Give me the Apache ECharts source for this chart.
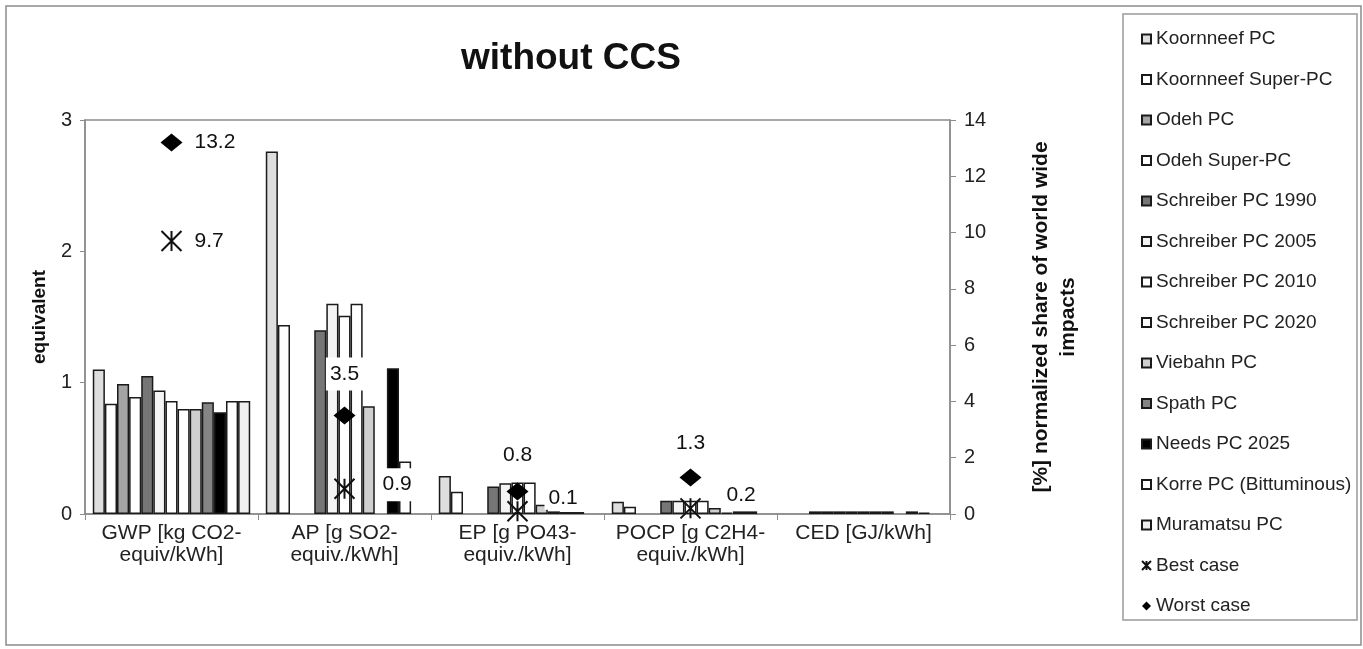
<!DOCTYPE html>
<html>
<head>
<meta charset="utf-8">
<script src="https://cdn.jsdelivr.net/npm/echarts@6/dist/echarts.min.js"></script>
<style>
html,body{margin:0;padding:0;background:#fff;}
#chart{width:1363px;height:649px;}
</style>
</head>
<body>
<div id="chart"></div>
<script>
// ---------- data ----------
const categories = ['GWP [kg CO2-\nequiv/kWh]', 'AP [g SO2-\nequiv./kWh]', 'EP [g PO43-\nequiv./kWh]', 'POCP [g C2H4-\nequiv./kWh]', 'CED [GJ/kWh]'];
const seriesNames = ['Koornneef PC', 'Koornneef Super-PC', 'Odeh PC', 'Odeh Super-PC', 'Schreiber PC 1990', 'Schreiber PC 2005', 'Schreiber PC 2010', 'Schreiber PC 2020', 'Viebahn PC', 'Spath PC', 'Needs PC 2025', 'Korre PC (Bittuminous)', 'Muramatsu PC'];
const koornneefPC      = [1.10, 2.76, 0.29, 0.094, null];
const koornneefSuperPC = [0.84, 1.44, 0.17, 0.056, null];
const odehPC           = [0.99, null, null, null, 0.02];
const odehSuperPC      = [0.89, null, null, null, 0.02];
const schreiber1990    = [1.05, 1.40, 0.21, 0.10, 0.02];
const schreiber2005    = [0.94, 1.60, 0.235, 0.10, 0.02];
const schreiber2010    = [0.86, 1.51, 0.24, 0.10, 0.02];
const schreiber2020    = [0.80, 1.60, 0.24, 0.10, 0.02];
const viebahnPC        = [0.80, 0.82, 0.07, 0.045, 0.02];
const spathPC          = [0.85, null, 0.02, 0.01, null];
const needsPC2025      = [0.775, 1.11, 0.015, 0.02, 0.02];
const korrePC          = [0.86, 0.40, 0.015, 0.02, 0.01];
const muramatsuPC      = [0.86, null, null, null, null];
const bestCase  = [9.7, 0.9, 0.1, 0.2, null];
const worstCase = [13.2, 3.5, 0.8, 1.3, null];
const leftTicks = [0, 1, 2, 3];
const rightTicks = [0, 2, 4, 6, 8, 10, 12, 14];

// ---------- styles ----------
const barValues = [koornneefPC, koornneefSuperPC, odehPC, odehSuperPC, schreiber1990, schreiber2005, schreiber2010, schreiber2020, viebahnPC, spathPC, needsPC2025, korrePC, muramatsuPC];
const barColors = ['#dedede', '#ffffff', '#a4a4a4', '#ffffff', '#767676', '#f4f4f4', '#ffffff', '#ffffff', '#cfcfcf', '#858585', '#000000', '#ffffff', '#efefef'];
const FONT = '"Liberation Sans", Arial, sans-serif';

const worstLabelLayout = [
  {position: 'right', distance: 8},
  {position: 'top', distance: 16},
  {position: 'top', distance: 11},
  {position: 'top', distance: 9},
  {position: 'top', distance: 9}
];
const bestLabelLayout = [
  {position: 'right', distance: 8},
  {position: 'right', distance: 23, offset: [0, -4]},
  {position: 'right', distance: 16, offset: [0, -13], padding: [1, 4]},
  {position: 'right', distance: 21, offset: [0, -13], padding: [1, 4]},
  {position: 'right', distance: 16}
];

const labelBase = {show: true, color: '#111', fontSize: 21, fontFamily: FONT, backgroundColor: '#fff', padding: [6, 4]};

const series = barValues.map((vals, i) => ({
  name: seriesNames[i],
  type: 'bar',
  yAxisIndex: 0,
  barGap: 0,
  barCategoryGap: '9%',
  data: vals,
  itemStyle: {color: barColors[i], borderColor: '#1a1a1a', borderWidth: 1.5},
  emphasis: {disabled: true},
  z: 2
}));

series.push({
  name: 'Best case',
  type: 'scatter',
  yAxisIndex: 1,
  symbol: 'path://M0,0L20,20M20,0L0,20M10,0L10,20',
  symbolSize: [20, 20],
  itemStyle: {color: 'rgba(0,0,0,0)', borderColor: '#111', borderWidth: 2, opacity: 1},
  emphasis: {disabled: true},
  data: bestCase.map((v, i) => ({value: v, label: Object.assign({}, labelBase, bestLabelLayout[i])})),
  z: 5
});
series.push({
  name: 'Worst case',
  type: 'scatter',
  yAxisIndex: 1,
  symbol: 'diamond',
  symbolSize: [22, 18],
  itemStyle: {color: '#000', opacity: 1},
  emphasis: {disabled: true},
  data: worstCase.map((v, i) => ({value: v, label: Object.assign({}, labelBase, worstLabelLayout[i])})),
  z: 6
});

const legendData = seriesNames.map(n => ({name: n, icon: 'rect'}))
  .concat([{name: 'Best case'}, {name: 'Worst case', icon: 'diamond'}]);

const chart = echarts.init(document.getElementById('chart'), null, {renderer: 'canvas'});
chart.setOption({
  animation: false,
  backgroundColor: '#fff',
  textStyle: {fontFamily: FONT},
  graphic: [
    {type: 'rect', shape: {x: 6, y: 6, width: 1355, height: 639}, style: {fill: 'none', stroke: '#8c8c8c', lineWidth: 1.5}, silent: true, z: -10},
    {type: 'rect', shape: {x: 1123, y: 14, width: 234, height: 606}, style: {fill: '#fff', stroke: '#9a9a9a', lineWidth: 1.5}, silent: true, z: -5},
    {type: 'text', left: 461, top: 40, style: {text: 'without CCS', font: 'bold 37px ' + FONT, fill: '#111'}, silent: true}
  ],
  grid: {left: 85, right: 413, top: 120, bottom: 135, show: true, borderColor: '#8c8c8c', borderWidth: 1.5, containLabel: false},
  legend: {
    orient: 'vertical',
    left: 1136,
    top: 24,
    itemWidth: 9,
    itemHeight: 9,
    itemGap: 20.5,
    selectedMode: false,
    textStyle: {fontSize: 19, color: '#222', fontFamily: FONT, lineHeight: 20},
    data: legendData
  },
  xAxis: {
    type: 'category',
    data: categories,
    axisLine: {lineStyle: {color: '#8c8c8c', width: 1.5}},
    axisTick: {show: true, length: 6, lineStyle: {color: '#8c8c8c'}},
    axisLabel: {interval: 0, fontSize: 21, lineHeight: 22, color: '#222', margin: 8, fontFamily: FONT},
    splitLine: {show: false}
  },
  yAxis: [
    {
      type: 'value', min: leftTicks[0], max: leftTicks[leftTicks.length - 1], interval: 1,
      name: 'equivalent', nameLocation: 'middle', nameGap: 36, nameRotate: 90,
      nameTextStyle: {fontSize: 19, fontWeight: 'bold', color: '#111', fontFamily: FONT},
      axisLine: {show: true, lineStyle: {color: '#8c8c8c', width: 1.5}},
      axisTick: {show: true, length: 5, lineStyle: {color: '#8c8c8c'}},
      axisLabel: {fontSize: 20, color: '#222', margin: 13, fontFamily: FONT},
      splitLine: {show: false}
    },
    {
      type: 'value', min: rightTicks[0], max: rightTicks[rightTicks.length - 1], interval: 2, position: 'right',
      name: '[%] normalized share of world wide\nimpacts', nameLocation: 'middle', nameGap: 78, nameRotate: 90,
      nameTextStyle: {fontSize: 21, fontWeight: 'bold', color: '#111', lineHeight: 27, fontFamily: FONT},
      axisLine: {show: true, lineStyle: {color: '#8c8c8c', width: 1.5}},
      axisTick: {show: true, length: 6, lineStyle: {color: '#8c8c8c'}},
      axisLabel: {fontSize: 20, color: '#222', margin: 14, fontFamily: FONT},
      splitLine: {show: false}
    }
  ],
  series: series
});
</script>
</body>
</html>
